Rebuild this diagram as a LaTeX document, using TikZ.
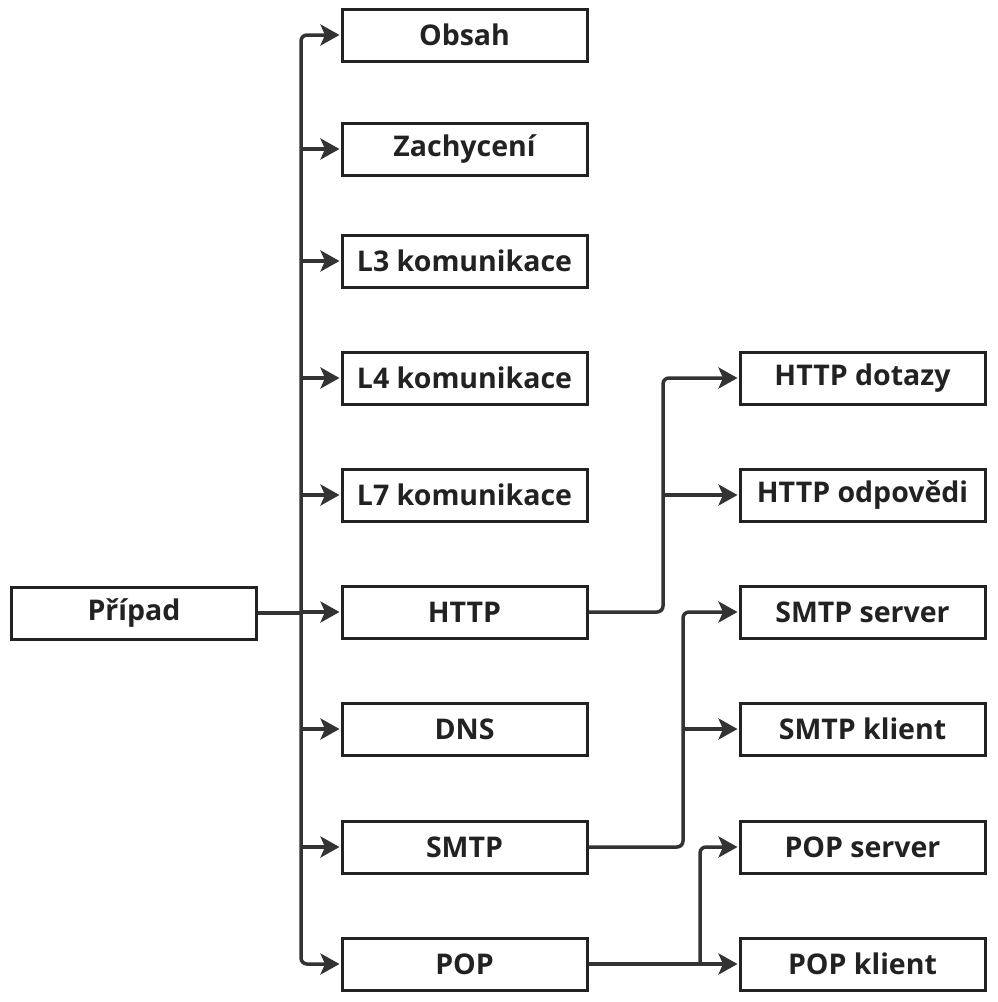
\documentclass[tikz,border=0pt]{standalone}
\usepackage{fontspec}
\setmainfont{Open Sans}
\usetikzlibrary{arrows.meta,calc}
\definecolor{linec}{HTML}{333333}
\definecolor{boxc}{HTML}{222222}
\begin{document}
\begin{tikzpicture}[x=1pt,y=-1pt,
  box/.style={draw=boxc, line width=3pt, fill=white, minimum width=245pt, minimum height=52pt, inner sep=0pt,
    font=\fontsize{28.5}{32}\selectfont\bfseries, text=boxc},
  conn/.style={draw=linec, line width=3.5pt, rounded corners=6pt},
  arr/.style={conn, -{Stealth[length=19pt,width=21pt,inset=4.5pt]}, shorten >=1pt}]
\useasboundingbox (0,0) rectangle (997,1002);
% left
\node[box] (pripad) at (134,613) {Případ};
% middle column
\node[box] (obsah) at (464.5,35) {Obsah};
\node[box] (zach) at (464.5,149) {Zachycení};
\node[box] (l3) at (464.5,261) {L3 komunikace};
\node[box] (l4) at (464.5,378) {L4 komunikace};
\node[box] (l7) at (464.5,495) {L7 komunikace};
\node[box] (http) at (464.5,612) {HTTP};
\node[box] (dns) at (464.5,729) {DNS};
\node[box] (smtp) at (464.5,847) {SMTP};
\node[box] (pop) at (464.5,964) {POP};
% right column
\node[box] (hdot) at (862.5,378) {HTTP dotazy};
\node[box] (hodp) at (862.5,495) {HTTP odpovědi};
\node[box] (sserv) at (862.5,612) {SMTP server};
\node[box] (skl) at (862.5,729) {SMTP klient};
\node[box] (pserv) at (862.5,847) {POP server};
\node[box] (pkl) at (862.5,964) {POP klient};
% trunk
\coordinate (t) at (301,613);
\draw[conn] (pripad.east) -- (t);
\draw[arr] (t) |- (obsah.west);
\draw[arr] (t) |- (pop.west);
\foreach \n in {zach,l3,l4,l7,dns,smtp} \draw[arr] (t |- \n.west) -- (\n.west);
\draw[arr] (t |- http.west) -- (http.west);
% HTTP branch
\coordinate (hx) at (663,0);
\draw[arr] (http.east) -- (http.east -| hx) |- (hdot.west);
\draw[arr] (hx |- hodp.west) -- (hodp.west);
% SMTP branch
\coordinate (sx) at (683,0);
\draw[arr] (smtp.east) -- (smtp.east -| sx) |- (sserv.west);
\draw[arr] (sx |- skl.west) -- (skl.west);
% POP branch
\coordinate (px) at (700,0);
\draw[arr] (pop.east) -- (pkl.west);
\draw[arr] (pop.east -| px) |- (pserv.west);
\end{tikzpicture}
\end{document}
